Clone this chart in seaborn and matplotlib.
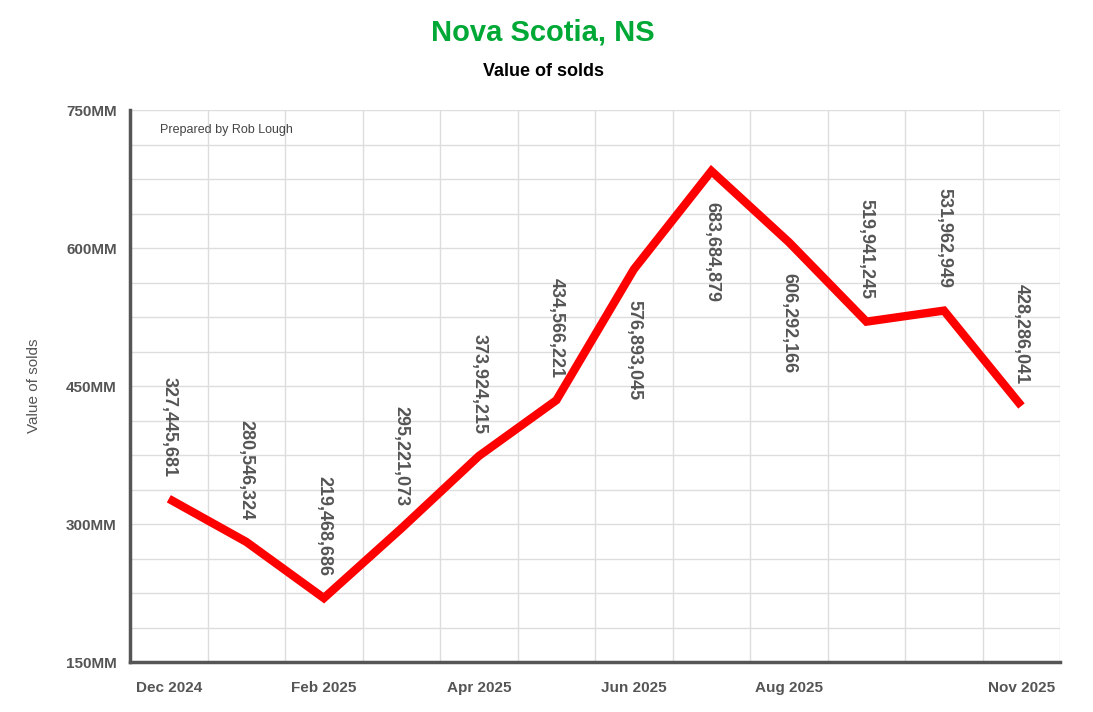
import matplotlib
matplotlib.use("Agg")
import matplotlib.pyplot as plt
import seaborn as sns
import pandas as pd
import numpy as np

months = ["Dec 2024", "Jan 2025", "Feb 2025", "Mar 2025", "Apr 2025", "May 2025",
          "Jun 2025", "Jul 2025", "Aug 2025", "Sep 2025", "Oct 2025", "Nov 2025"]
values = [327445681, 280546324, 219468686, 295221073, 373924215, 434566221,
          576893045, 683684879, 606292166, 519941245, 531962949, 428286041]
shown_labels = ["Dec 2024", "", "Feb 2025", "", "Apr 2025", "", "Jun 2025", "",
                "Aug 2025", "", "", "Nov 2025"]
label_side = ["above"] * 6 + ["below"] * 3 + ["above"] * 3

df = pd.DataFrame({"pos": np.arange(len(months)), "value": values})

sns.set_style("white")
plt.rcParams["font.family"] = ["Liberation Sans", "DejaVu Sans"]

fig = plt.figure(figsize=(10.93, 7.12), dpi=100)
ax = fig.add_axes([0.119, 0.0702, 0.851, 0.7753])

sns.lineplot(data=df, x="pos", y="value", ax=ax, color="#ff0000", linewidth=6,
             solid_capstyle="butt", solid_joinstyle="miter")

ax.set_ylim(150e6, 750e6)
ax.set_xlim(-0.5, len(months) - 0.5)

# grid
for y in np.arange(150e6, 750e6 + 1, 37.5e6):
    ax.axhline(y, color="#dddddd", lw=1, zorder=0)
for x in np.arange(-0.5, len(months), 1.0):
    ax.axvline(x, color="#dddddd", lw=1, zorder=0)

ax.set_yticks([150e6, 300e6, 450e6, 600e6, 750e6])
ax.set_yticklabels(["150MM", "300MM", "450MM", "600MM", "750MM"],
                   fontweight="bold", color="#555555", fontsize=11)
ax.set_yticks(np.arange(150e6, 750e6 + 1, 37.5e6), minor=True)
ax.set_xticks(np.arange(-0.5, len(months), 1.0))
ax.set_xticklabels([])
ax.set_xticks(np.arange(len(months)), minor=True)
ax.set_xticklabels(shown_labels, minor=True, fontweight="bold", color="#555555", fontsize=11)
ax.tick_params(axis="y", which="both", direction="out", length=6, color="#555555", width=1)
ax.tick_params(axis="x", which="major", direction="out", length=7, color="#555555")
ax.tick_params(axis="x", which="minor", length=0, pad=14)

for side in ["top", "right"]:
    ax.spines[side].set_visible(False)
for side in ["left", "bottom"]:
    ax.spines[side].set_color("#555555")
    ax.spines[side].set_linewidth(2.5)

ax.set_xlabel("")
ax.set_ylabel("Value of solds", color="#555555", fontsize=11, labelpad=18)

for i, v in enumerate(values):
    if label_side[i] == "above":
        ax.annotate(f"{v:,}", (i, v), xytext=(0, 16), textcoords="offset points",
                    rotation=-90, ha="center", va="bottom", fontsize=13,
                    fontweight="bold", color="#555555")
    else:
        ax.annotate(f"{v:,}", (i, v), xytext=(0, -22), textcoords="offset points",
                    rotation=-90, ha="center", va="top", fontsize=13,
                    fontweight="bold", color="#555555")

ax.text(0.032, 0.975, "Prepared by Rob Lough", transform=ax.transAxes,
        fontsize=9, color="#444444", va="top")

fig.text(0.497, 0.955, "Nova Scotia, NS", ha="center", va="center",
         fontsize=21, fontweight="bold", color="#00a835")
fig.text(0.497, 0.9, "Value of solds", ha="center", va="center",
         fontsize=13, fontweight="bold", color="black")

fig.savefig("out.png", dpi=100)
